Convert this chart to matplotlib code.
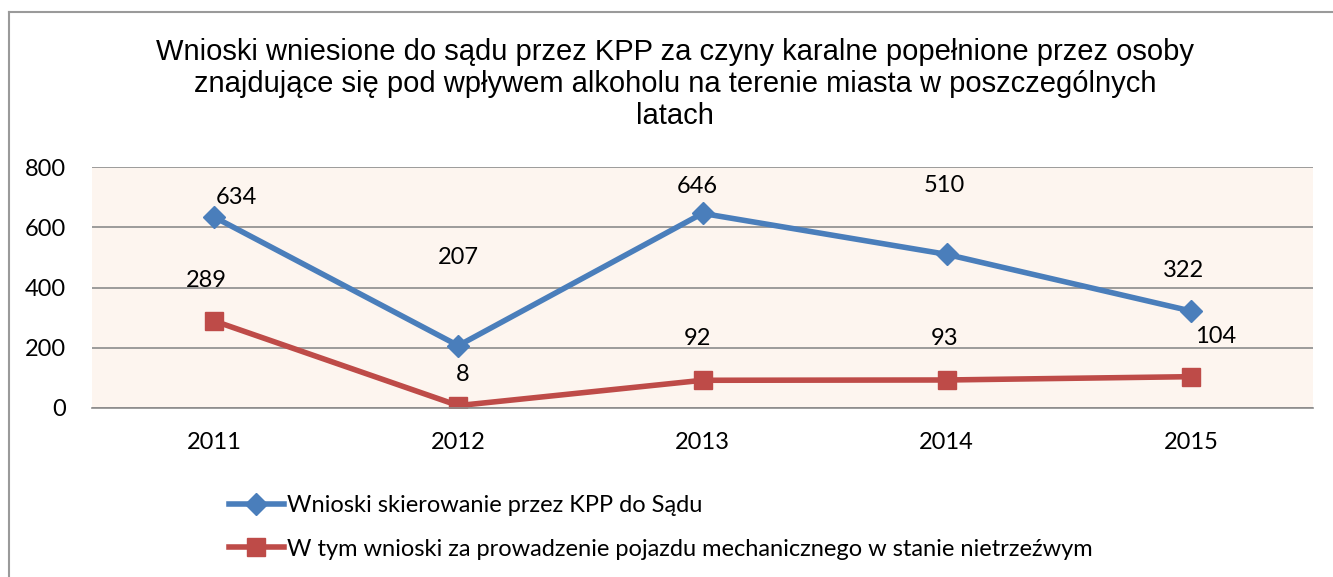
import matplotlib.pyplot as plt
from matplotlib.lines import Line2D

# Data
years = ["2011", "2012", "2013", "2014", "2015"]
wnioski = [634, 207, 646, 510, 322]
nietrzezwi = [289, 8, 92, 93, 104]

# label positions (moved by hand in the original chart)
wnioski_lbl_x = [0.09, 1.0, 1.98, 2.99, 3.97]
wnioski_lbl_y = [700, 500, 734, 740, 455]
nietrz_lbl_x = [-0.03, 1.02, 1.98, 2.99, 4.1]
nietrz_lbl_y = [422, 110, 232, 232, 236]

title = ("Wnioski wniesione do sądu przez KPP za czyny karalne popełnione przez osoby\n"
         "znajdujące się pod wpływem alkoholu na terenie miasta w poszczególnych\n"
         "latach")
names = ["Wnioski skierowanie przez KPP do Sądu",
         "W tym wnioski za prowadzenie pojazdu mechanicznego w stanie nietrzeźwym"]

blue = "#4A7EBB"
red = "#BE4B48"
lbl_font = "Lato"
fs = 17

fig = plt.figure(figsize=(13.33, 5.77), dpi=100)
ax = fig.add_axes([92 / 1333, 1 - 408 / 577, 1221 / 1333, 241 / 577])
ax.set_facecolor("#FDF5EF")

x = list(range(len(years)))
ax.plot(x, wnioski, color=blue, lw=4, marker="D", ms=11, label=names[0])
ax.plot(x, nietrzezwi, color=red, lw=4, marker="s", ms=13, label=names[1])

for xi, yi, v in zip(wnioski_lbl_x, wnioski_lbl_y, wnioski):
    ax.text(xi, yi, str(v), ha="center", va="center", fontsize=fs, family=lbl_font)
for xi, yi, v in zip(nietrz_lbl_x, nietrz_lbl_y, nietrzezwi):
    ax.text(xi, yi, str(v), ha="center", va="center", fontsize=fs, family=lbl_font)

ax.set_xlim(-0.5, 4.5)
ax.set_ylim(0, 800)
ax.set_yticks([0, 200, 400, 600, 800])
ax.set_xticks(x)
ax.set_xticklabels(years)
ax.grid(axis="y", color="#8C8C8C", lw=1.2)
ax.set_axisbelow(True)
for s in ["top", "right", "left"]:
    ax.spines[s].set_visible(False)
ax.spines["bottom"].set_color("#8C8C8C")
ax.spines["bottom"].set_linewidth(1.2)
ax.tick_params(length=0, labelsize=fs)
for lab in ax.get_xticklabels() + ax.get_yticklabels():
    lab.set_family(lbl_font)
ax.tick_params(axis="y", pad=19)
ax.tick_params(axis="x", pad=17)

fig.text(675 / 1333, 1 - 84 / 577, title, ha="center", va="center",
         fontsize=21, family="Liberation Sans", linespacing=1.2)

leg = fig.legend(loc="upper left", bbox_to_anchor=(208 / 1333, 1 - 474 / 577),
                 frameon=False, handlelength=2.3, handletextpad=0.15,
                 labelspacing=0.95, prop={"family": lbl_font, "size": fs})

# outer frame
fig.add_artist(Line2D([9 / 1333, 9 / 1333], [0, 1 - 12 / 577], color="#9A9A9A", lw=1.5))
fig.add_artist(Line2D([9 / 1333, 1], [1 - 12 / 577, 1 - 12 / 577], color="#9A9A9A", lw=1.5))

fig.savefig("out.png", dpi=100)
